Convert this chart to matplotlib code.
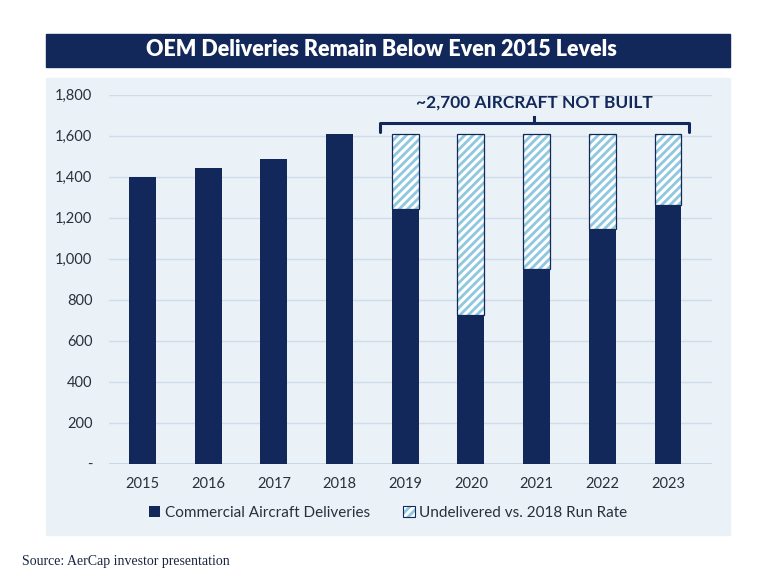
import numpy as np
import matplotlib.pyplot as plt
from matplotlib.patches import Rectangle

# data
years = ["2015", "2016", "2017", "2018", "2019", "2020", "2021", "2022", "2023"]
deliveries = [1397, 1440, 1485, 1606, 1243, 724, 949, 1145, 1262]
run_rate_2018 = 1606
undelivered_from = 4  # hatched bars start at 2019
ytick_vals = [0, 200, 400, 600, 800, 1000, 1200, 1400, 1600, 1800]
ytick_labels = ["-", "200", "400", "600", "800", "1,000", "1,200", "1,400", "1,600", "1,800"]

navy = "#13285a"
hatch_blue = "#8ec7e0"
panel = "#eaf2f8"
text_col = "#2b2f3a"

plt.rcParams["font.family"] = ["Lato", "DejaVu Sans"]
plt.rcParams["hatch.linewidth"] = 2.0

fig = plt.figure(figsize=(7.68, 5.76), dpi=100)
W, H = 768, 576

# background panel and title banner (behind the axes)
fig.patches.append(Rectangle((46 / W, 1 - 535 / H), 684 / W, 457 / H,
                             transform=fig.transFigure, color=panel, zorder=-2))
fig.patches.append(Rectangle((46 / W, 1 - 67 / H), 684 / W, 33 / H,
                             transform=fig.transFigure, color=navy, zorder=-2))
fig.text(381 / W, 1 - 49 / H, "OEM Deliveries Remain Below Even 2015 Levels",
         color="white", fontsize=15.5, fontweight="heavy", ha="center", va="center")

ax = fig.add_axes([109 / W, 1 - 463.5 / H, 603 / W, 369 / H])
ax.set_facecolor(panel)

x = np.arange(len(years))
w = 0.41
ax.bar(x, deliveries, width=w, color=navy, zorder=3)

xs = x[undelivered_from:]
base = np.array(deliveries[undelivered_from:])
gap = run_rate_2018 - base
ax.bar(xs, gap, bottom=base, width=w, color="white", edgecolor=hatch_blue,
       hatch="////", linewidth=0, zorder=3)
ax.bar(xs, gap, bottom=base, width=w, fill=False, edgecolor=navy,
       linewidth=0.9, zorder=4)

ax.set_ylim(0, 1800)
ax.set_xlim(-0.51, 8.67)
ax.set_yticks(ytick_vals)
ax.set_yticklabels(ytick_labels)
ax.set_xticks(x)
ax.set_xticklabels(years)
ax.tick_params(length=0, colors=text_col, labelsize=10.5)
ax.tick_params(axis="y", pad=12)
ax.tick_params(axis="x", pad=10)
for s in ax.spines.values():
    s.set_visible(False)
ax.grid(axis="y", color="#cfdde9", linewidth=1, zorder=0)
ax.set_axisbelow(True)
ax.axhline(0, color="#c3d3e2", linewidth=1.2, zorder=2)

# bracket over the hatched bars
bl, br, by = 3.61, 8.32, 1660
ax.plot([bl, bl, br, br], [1618, by, by, 1618], color=navy, lw=2.2,
        solid_joinstyle="round", solid_capstyle="round", clip_on=False, zorder=5)
mid = 5.96
ax.plot([mid, mid], [by, by + 30], color=navy, lw=2.2, clip_on=False, zorder=5)
ax.text(mid, 1762, "~2,700 AIRCRAFT NOT BUILT", ha="center", va="center",
        color=navy, fontsize=12.5, fontweight="bold")

# legend
solid_proxy = Rectangle((0, 0), 1, 1, facecolor=navy, linewidth=0)
hatch_proxy = Rectangle((0, 0), 1, 1, facecolor="white", edgecolor=hatch_blue,
                        hatch="////", linewidth=0)
hatch_edge = Rectangle((0, 0), 1, 1, fill=False, edgecolor=navy, linewidth=0.8)
fig.legend([solid_proxy, (hatch_proxy, hatch_edge)],
           ["Commercial Aircraft Deliveries", "Undelivered vs. 2018 Run Rate"],
           loc="center", bbox_to_anchor=(388 / W, 1 - 513 / H), ncol=2, frameon=False,
           fontsize=11, handlelength=0.75, handleheight=0.75, handletextpad=0.3,
           columnspacing=2.2, labelcolor=text_col)

fig.text(22 / W, 1 - 562 / H, "Source: AerCap investor presentation",
         family=["Liberation Serif", "DejaVu Serif"], fontsize=10, color="#1a2540",
         va="center")

fig.savefig("out.png", dpi=100)
